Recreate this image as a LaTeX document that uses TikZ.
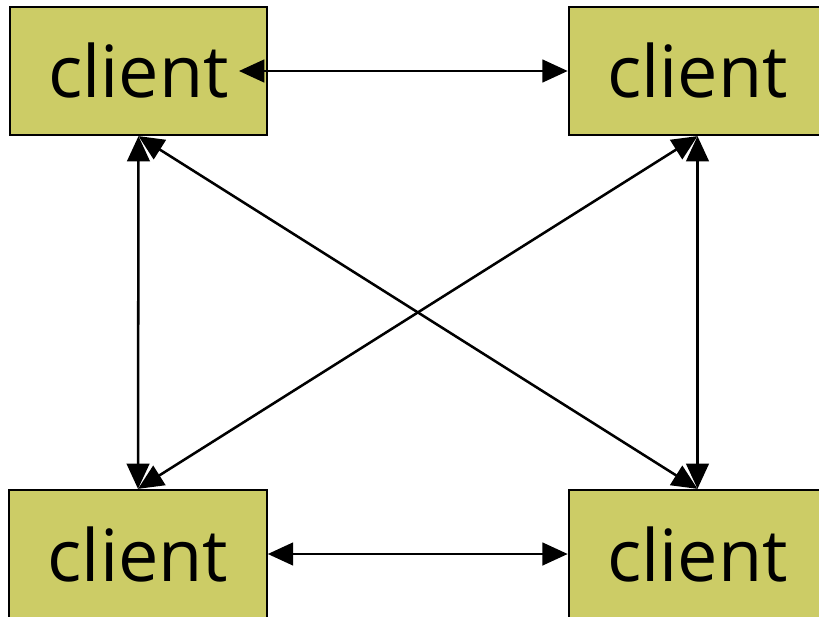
\documentclass[tikz,border=0pt]{standalone}
\usepackage{fontspec}
\setmainfont{Open Sans}
\usetikzlibrary{shapes, arrows.meta, positioning}
\definecolor{clientfill}{RGB}{204,204,102}

\begin{document}
\begin{tikzpicture}[auto, x=0.75pt, y=-0.75pt]

\tikzstyle{block} = [draw, shape=rectangle, fill=clientfill, minimum height=96pt, minimum width=193pt, inner sep=0pt, line width=1.7pt, font=\fontsize{54}{62}\selectfont]
\tikzstyle{link} = [{Triangle[length=19pt,width=17pt]}-{Triangle[length=19pt,width=17pt]}, line width=1.9pt]

\useasboundingbox (0,0) rectangle (819,617);

%Creating Blocks
\node [block] at (138.5,71) (c1) {client};
\node [block] at (697.5,71) (c2) {client};
\node [block] at (138,554) (c3) {client};
\node [block] at (697.5,554) (c4) {client};

%Connecting Blocks
\draw[link] ([xshift=-22pt]c1.east) -- (c2.west);
\draw[link] (c3.east) -- (c4.west);
\draw[link] (c1.south) -- (c3.north);
\draw[link] (c2.south) -- (c4.north);
\draw[link] (c1.south) -- (c4.north);
\draw[link] (c2.south) -- (c3.north);
\end{tikzpicture}
\end{document}
